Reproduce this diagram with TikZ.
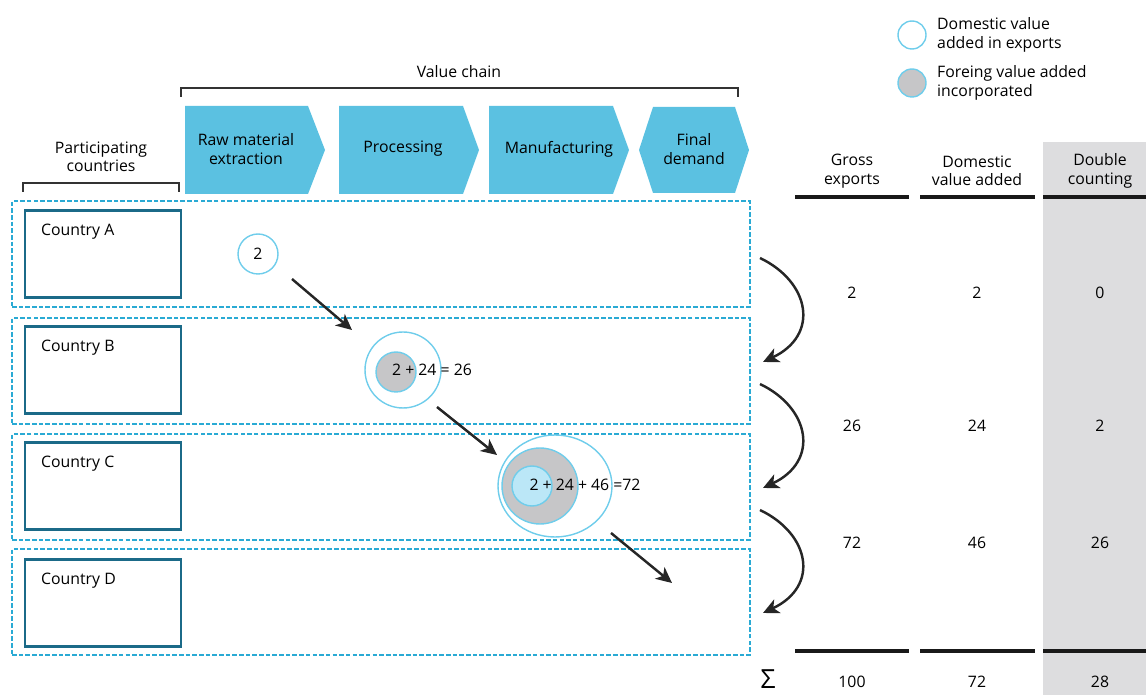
\documentclass[tikz,border=0pt]{standalone}
\usepackage{fontspec}
\setmainfont{Open Sans}
\usetikzlibrary{arrows.meta,shapes.geometric}
\definecolor{chainblue}{HTML}{5BC1E1}
\definecolor{dashblue}{HTML}{2AAAD4}
\definecolor{countryteal}{HTML}{1B6A88}
\definecolor{ringblue}{HTML}{6FCDEB}
\definecolor{foreigngrey}{HTML}{C6C6C8}
\definecolor{innerblue}{HTML}{BBE7F7}
\definecolor{tablegrey}{HTML}{DDDDDF}
\begin{document}
\begin{tikzpicture}[x=0.02cm, y=-0.02cm, font=\fontsize{9}{10.5}\selectfont, text=black,
  row box/.style={draw=dashblue, dash pattern=on 2.6pt off 1.2pt, line width=0.9pt, minimum width=14.76cm, minimum height=2.12cm, inner sep=0pt},
  country/.style={draw=countryteal, line width=1.6pt, minimum width=3.12cm, minimum height=1.74cm, inner sep=0pt},
  ring/.style={circle, draw=ringblue, line width=0.8pt, inner sep=0pt},
  chain/.style={fill=chainblue},
  bracket/.style={draw=black!80, line width=1.2pt},
  rule/.style={draw=black!90, line width=2.8pt},
  flow/.style={draw=black!85, line width=1.4pt, -{Stealth[length=9pt, width=8.5pt, inset=2.5pt]}}]
\useasboundingbox (0,0) rectangle (1146,695);
% legend
\begin{scope}
\node[ring, fill=white, minimum size=0.56cm] (legdom) at (912,35) {};
\node[ring, fill=foreigngrey, minimum size=0.56cm] (legfor) at (912,83) {};
\node[anchor=west, align=left] (legdomtext) at (931,35) {Domestic value\\added in exports};
\node[anchor=west, align=left] (legfortext) at (931,83) {Foreing value added\\incorporated};
\end{scope}
% brackets
\node (valuechain) at (459,72) {Value chain};
\draw[bracket] (181,97) |- (738,88) -- (738,97);
\node[align=center] (participating) at (101,157) {Participating\\countries};
\draw[bracket] (23,192) |- (179,183) -- (179,192);
% value chain stages
\fill[chain] (185,106) -- (308,106) -- (325,150) -- (308,194) -- (185,194) -- cycle;
\fill[chain] (339,106) -- (463,106) -- (479,150) -- (463,194) -- (339,194) -- cycle;
\fill[chain] (489,106) -- (613,106) -- (629,150) -- (613,194) -- (489,194) -- cycle;
\fill[chain] (653,107) -- (735,107) -- (749,150) -- (735,193) -- (653,193) -- (639,150) -- cycle;
\node[align=center] (raw) at (246,149) {Raw material\\extraction};
\node (processing) at (403,149) {Processing};
\node (manufacturing) at (559,149) {Manufacturing};
\node[align=center] (final) at (694,149) {Final\\demand};
% rows and countries
\begin{scope}
\node[row box] (rowA) at (381,254) {};
\node[row box] (rowB) at (381,371) {};
\node[row box] (rowC) at (381,487) {};
\node[row box] (rowD) at (381,602) {};
\node[country] (cA) at (103,254) {};
\node[country] (cB) at (103,370) {};
\node[country] (cC) at (103,486) {};
\node[country] (cD) at (103,603) {};
\node[anchor=north west] (tA) at (35,218) {Country A};
\node[anchor=north west] (tB) at (35,334) {Country B};
\node[anchor=north west] (tC) at (35,450) {Country C};
\node[anchor=north west] (tD) at (35,567) {Country D};
\end{scope}
% value added circles
\node[ring, minimum size=0.8cm] (vA) at (258,254) {2};
\node[ring, minimum size=1.52cm] (outerB) at (403,370) {};
\node[ring, fill=foreigngrey, minimum size=0.8cm] (greyB) at (396,372) {};
\node (vB) at (432,370) {2 + 24 = 26};
\node[ellipse, draw=ringblue, line width=0.8pt, minimum width=2.28cm, minimum height=2.04cm] (outerC) at (555,486) {};
\node[ring, fill=foreigngrey, minimum size=1.52cm] (greyC) at (540,486) {};
\node[ring, fill=innerblue, minimum size=0.8cm] (innerC) at (532,486) {};
\node (vC) at (585,485) {2 + 24 + 46 =72};
% flows
\coordinate (fA1) at (292,279); \coordinate (fA2) at (352,330);
\coordinate (fB1) at (437,407); \coordinate (fB2) at (497,455);
\coordinate (fC1) at (611,533); \coordinate (fC2) at (672,583);
\draw[flow] (fA1) -- (fA2);
\draw[flow] (fB1) -- (fB2);
\draw[flow] (fC1) -- (fC2);
\coordinate (eA) at (760,258); \coordinate (eB) at (763,362);
\coordinate (eB2) at (760,384); \coordinate (eC) at (763,488);
\coordinate (eC2) at (760,510); \coordinate (eD) at (763,613);
\draw[flow] (eA) .. controls (810,282) and (820,335) .. (eB);
\draw[flow] (eB2) .. controls (810,408) and (820,461) .. (eC);
\draw[flow] (eC2) .. controls (810,534) and (820,586) .. (eD);
% table
\fill[tablegrey] (1043,142) rectangle (1146,695);
\node[align=center] (hgross) at (852,171) {Gross\\exports};
\node[align=center] (hdom) at (977,171) {Domestic\\value added};
\node[align=center] (hdouble) at (1100,171) {Double\\counting};
\draw[rule] (795,197) -- (909,197);
\draw[rule] (920,197) -- (1035,197);
\draw[rule] (1043,197) -- (1146,197);
\draw[rule] (795,651) -- (909,651);
\draw[rule] (920,651) -- (1035,651);
\draw[rule] (1043,651) -- (1146,651);
\node (g1) at (852,293) {2};
\node (d1) at (977,293) {2};
\node (c1) at (1100,293) {0};
\node (g2) at (852,426) {26};
\node (d2) at (977,426) {24};
\node (c2) at (1100,426) {2};
\node (g3) at (852,543) {72};
\node (d3) at (977,543) {46};
\node (c3) at (1100,543) {26};
\node[font=\fontsize{15}{15}\selectfont, inner sep=0pt] (sigma) at (768,679) {Σ};
\node (gsum) at (852,682) {100};
\node (dsum) at (977,682) {72};
\node (csum) at (1100,682) {28};
\end{tikzpicture}
\end{document}
